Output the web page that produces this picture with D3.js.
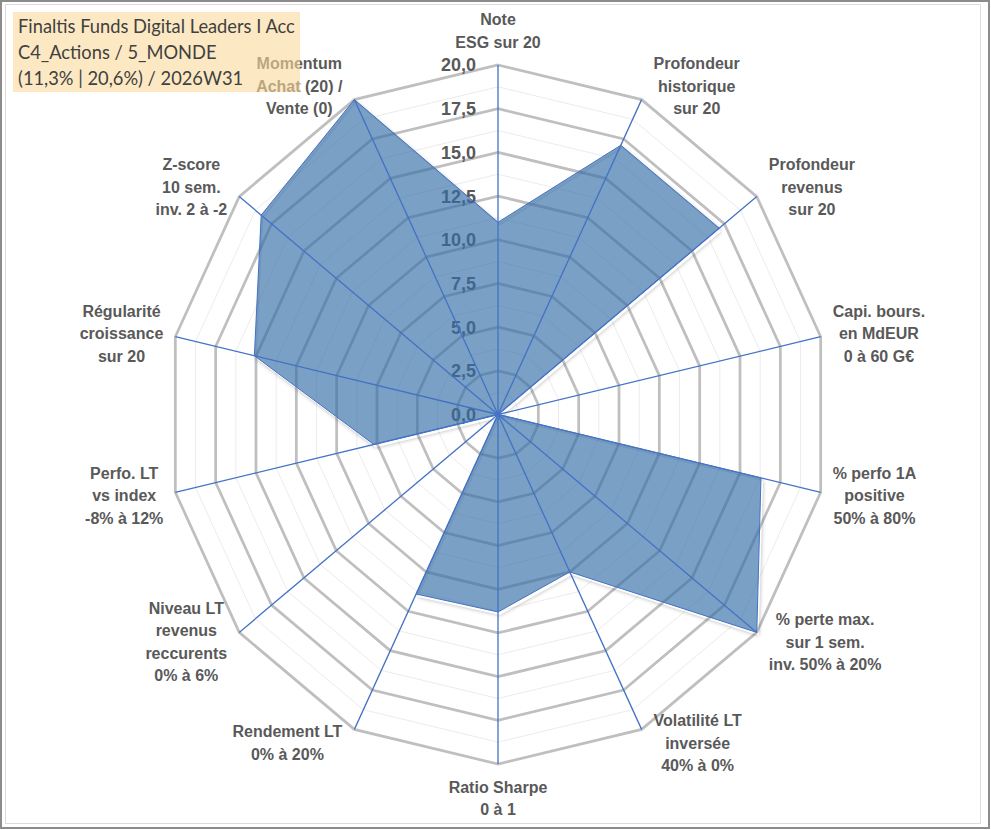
<!DOCTYPE html>
<html>
<head>
<meta charset="utf-8">
<script src="https://cdn.jsdelivr.net/npm/d3@7"></script>
<style>
  body { margin: 0; background: #fff; }
  svg { display: block; }
</style>
</head>
<body>
<svg id="chart" width="991" height="830"></svg>
<script>
// axis titles, clockwise from the top
var categories = [
    "Note\nESG sur 20",
    "Profondeur\nhistorique\nsur 20",
    "Profondeur\nrevenus\nsur 20",
    "Capi. bours.\nen MdEUR\n0 à 60 G€",
    "% perfo 1A\npositive\n50% à 80%",
    "% perte max.\nsur 1 sem.\ninv. 50% à 20%",
    "Volatilité LT\ninversée\n40% à 0%",
    "Ratio Sharpe\n0 à 1",
    "Rendement LT\n0% à 20%",
    "Niveau LT\nrevenus\nreccurents\n0% à 6%",
    "Perfo. LT\nvs index\n-8% à 12%",
    "Régularité\ncroissance\nsur 20",
    "Z-score\n10 sem.\ninv. 2 à -2",
    "Momentum\nAchat (20) /\nVente (0)"
];

var values = [11.0, 17.1, 17.1, 0, 16.3, 20, 10.0, 11.3, 11.4, 0, 7.7, 15.1, 18.3, 20];

var majorTicks = [0, 2.5, 5, 7.5, 10, 12.5, 15, 17.5, 20];
var minorTicks = [1.25, 3.75, 6.25, 8.75, 11.25, 13.75, 16.25, 18.75];

var titleLines = [
    "Finaltis Funds Digital Leaders I Acc",
    "C4_Actions / 5_MONDE",
    "(11,3% | 20,6%) / 2026W31"
];

var svg = d3.select("#chart"),
    cx = 498,
    cy = 414.5,
    kx = 0.947,          // the plot is a little narrower than tall
    n = categories.length;

var r = d3.scaleLinear().domain([0, 20]).range([0, 349.5]);
var angle = d3.scaleLinear().domain([0, n]).range([0, 2 * Math.PI]);

var fr = d3.formatLocale({ decimal: ",", thousands: " ", grouping: [3], currency: ["", "€"] });
var tickFmt = fr.format(".1f");

function px(i, v) { return cx + Math.sin(angle(i)) * r(v) * kx; }
function py(i, v) { return cy - Math.cos(angle(i)) * r(v); }

function ring(v) {
    return d3.range(n).map(function (i) { return [px(i, v), py(i, v)]; });
}

var line = d3.line().curve(d3.curveLinearClosed);

// frame
svg.append("rect")
    .attr("x", 1).attr("y", 1).attr("width", 988).attr("height", 827)
    .attr("fill", "#fff").attr("stroke", "#8c8c8c").attr("stroke-width", 2);
svg.append("rect")
    .attr("x", 5.5).attr("y", 4.5).attr("width", 975).attr("height", 819)
    .attr("fill", "none").attr("stroke", "#dcdcdc").attr("stroke-width", 1);

var defs = svg.append("defs");
defs.append("filter").attr("id", "blur")
    .attr("x", "-10%").attr("y", "-10%").attr("width", "120%").attr("height", "120%")
    .append("feGaussianBlur").attr("stdDeviation", 2.2);

var g = svg.append("g");

// grid rings
g.selectAll(".minor")
    .data(minorTicks)
    .enter().append("path")
    .attr("class", "minor")
    .attr("d", function (d) { return line(ring(d)); })
    .attr("fill", "none")
    .attr("stroke", "#ececec")
    .attr("stroke-width", 1);

g.selectAll(".major")
    .data(majorTicks.filter(function (d) { return d > 0; }))
    .enter().append("path")
    .attr("class", "major")
    .attr("d", function (d) { return line(ring(d)); })
    .attr("fill", "none")
    .attr("stroke", "#bfbfbf")
    .attr("stroke-width", 2.75)
    .attr("stroke-linejoin", "miter");

// value labels on the top axis
g.selectAll(".tick")
    .data(majorTicks)
    .enter().append("text")
    .attr("class", "tick")
    .attr("x", cx - 22)
    .attr("y", function (d) { return cy - r(d); })
    .attr("dy", "0.36em")
    .attr("text-anchor", "end")
    .style("font-family", "'Liberation Sans', Arial, sans-serif")
    .style("font-weight", "bold")
    .style("font-size", "18px")
    .attr("fill", "#595959")
    .text(function (d) { return tickFmt(d); });

// series
var pts = values.map(function (v, i) { return [px(i, v), py(i, v)]; });

var mask = defs.append("mask").attr("id", "outside");
mask.append("rect").attr("width", 991).attr("height", 830).attr("fill", "#fff");
mask.append("path").attr("d", line(pts)).attr("fill", "#000");

g.append("path")
    .attr("d", line(pts))
    .attr("transform", "translate(2,3)")
    .attr("fill", "#000")
    .attr("opacity", 0.3)
    .attr("filter", "url(#blur)")
    .attr("mask", "url(#outside)");

g.append("path")
    .attr("d", line(pts))
    .attr("fill", "#326da7")
    .attr("fill-opacity", 0.65)
    .attr("stroke", "#4472c4")
    .attr("stroke-width", 1);

// spokes
g.selectAll(".spoke")
    .data(d3.range(n))
    .enter().append("line")
    .attr("class", "spoke")
    .attr("x1", cx).attr("y1", cy)
    .attr("x2", function (i) { return px(i, 20); })
    .attr("y2", function (i) { return py(i, 20); })
    .attr("stroke", "#4472c4")
    .attr("stroke-width", 1.3);

g.append("circle").attr("cx", cx).attr("cy", cy).attr("r", 2.5).attr("fill", "#4472c4");

// category labels
var lh = 22.5, gap = 12, vshift = 15;
categories.forEach(function (c, i) {
    var lines = c.split("\n"),
        a = angle(i),
        s = Math.sin(a), co = Math.cos(a),
        x0 = px(i, 20), y0 = py(i, 20);

    var t = g.append("text")
        .attr("text-anchor", "middle")
        .style("font-family", "'Liberation Sans', Arial, sans-serif")
        .style("font-weight", "bold")
        .style("font-size", "16px")
        .attr("fill", "#595959");

    var spans = t.selectAll("tspan").data(lines).enter().append("tspan").text(function (d) { return d; });
    var w = d3.max(spans.nodes(), function (nd) { return nd.getComputedTextLength(); });
    var h = (lines.length - 1) * lh;

    var lx, ly;
    if (Math.abs(s) < 0.1) {
        lx = x0;
        ly = y0 - co * (vshift + h / 2 + 8);
    } else {
        lx = x0 + Math.sign(s) * (gap + w / 2);
        ly = y0 - co * vshift;
    }
    spans.attr("x", lx)
        .attr("y", function (d, k) { return ly + (k - (lines.length - 1) / 2) * lh; })
        .attr("dy", "0.36em");
});

// title box
svg.append("rect")
    .attr("x", 13).attr("y", 12).attr("width", 287).attr("height", 80)
    .attr("fill", "#fadb9d").attr("fill-opacity", 0.6);

svg.append("g").selectAll("text")
    .data(titleLines)
    .enter().append("text")
    .attr("x", 18)
    .attr("y", function (d, i) { return 33 + i * 26; })
    .style("font-family", "Lato, 'Open Sans', sans-serif")
    .style("font-size", "18.3px")
    .attr("fill", "#404040")
    .text(function (d) { return d; });
</script>
</body>
</html>
